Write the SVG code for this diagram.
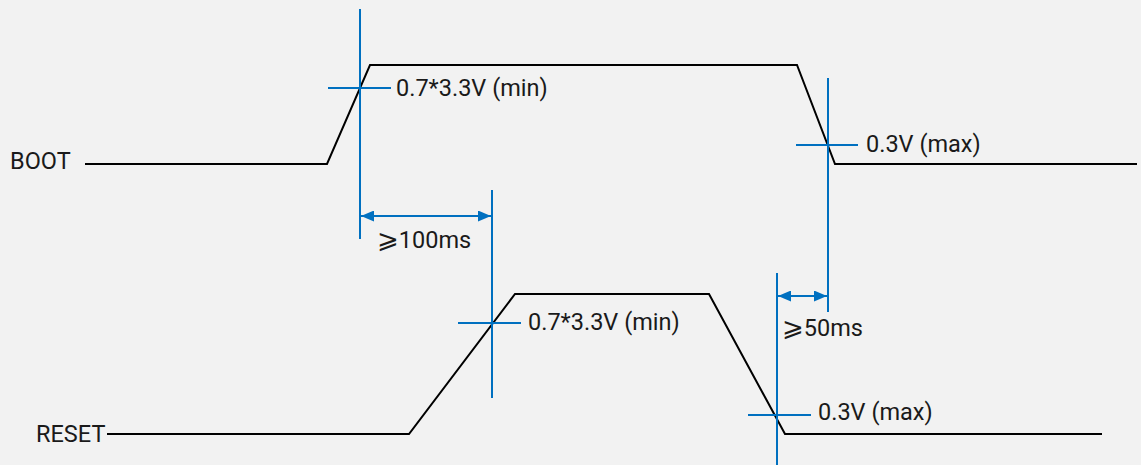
<svg xmlns="http://www.w3.org/2000/svg" width="1141" height="465" viewBox="0 0 1141 465">
<style>
.sig{fill:none;stroke:#000;stroke-width:2;stroke-linejoin:miter}
.guide{fill:none;stroke:#0070C0;stroke-width:2}
.dim{fill:none;stroke:#0070C0;stroke-width:2;marker-start:url(#ah);marker-end:url(#ah)}
text{font-family:Roboto,"Liberation Sans","DejaVu Sans",sans-serif;font-size:23.5px;fill:#1a1a1a}
.ge{font-size:26px}
</style>
<defs>
<marker id="ah" viewBox="0 0 13 11" refX="13" refY="5.5" markerWidth="13" markerHeight="11" markerUnits="userSpaceOnUse" orient="auto-start-reverse">
<path d="M0,0 L13,5.5 L0,11 Z" fill="#0070C0"/>
</marker>
</defs>
<rect width="1141" height="465" fill="#f2f2f2"/>
<g id="boot">
<text x="10" y="169">BOOT</text>
<polyline class="sig" points="85,164 327,164 370,65 797,65 835,164 1137,164"/>
</g>
<g id="reset">
<text x="36" y="442">RESET</text>
<polyline class="sig" points="107,434 409,434 515,294 709,294 785,434 1102,434"/>
</g>
<g id="connectors">
<line class="guide" x1="360" y1="9" x2="360" y2="239"/>
<line class="guide" x1="328" y1="88" x2="391" y2="88"/>
<line class="guide" x1="492" y1="190" x2="492" y2="398"/>
<line class="guide" x1="458" y1="323" x2="521" y2="323"/>
<line class="guide" x1="828" y1="78" x2="828" y2="312"/>
<line class="guide" x1="796" y1="145" x2="858" y2="145"/>
<line class="guide" x1="777" y1="273" x2="777" y2="465"/>
<line class="guide" x1="748" y1="415" x2="811" y2="415"/>
<line class="dim" x1="361" y1="216" x2="491" y2="216"/>
<line class="dim" x1="778" y1="296" x2="827" y2="296"/>
</g>
<g id="labels">
<text x="396" y="96">0.7*3.3V (min)</text>
<text x="866" y="152">0.3V (max)</text>
<text x="377" y="248"><tspan class="ge">⩾</tspan>100ms</text>
<text x="528" y="330">0.7*3.3V (min)</text>
<text x="782" y="336"><tspan class="ge">⩾</tspan>50ms</text>
<text x="818" y="420">0.3V (max)</text>
</g>
</svg>
